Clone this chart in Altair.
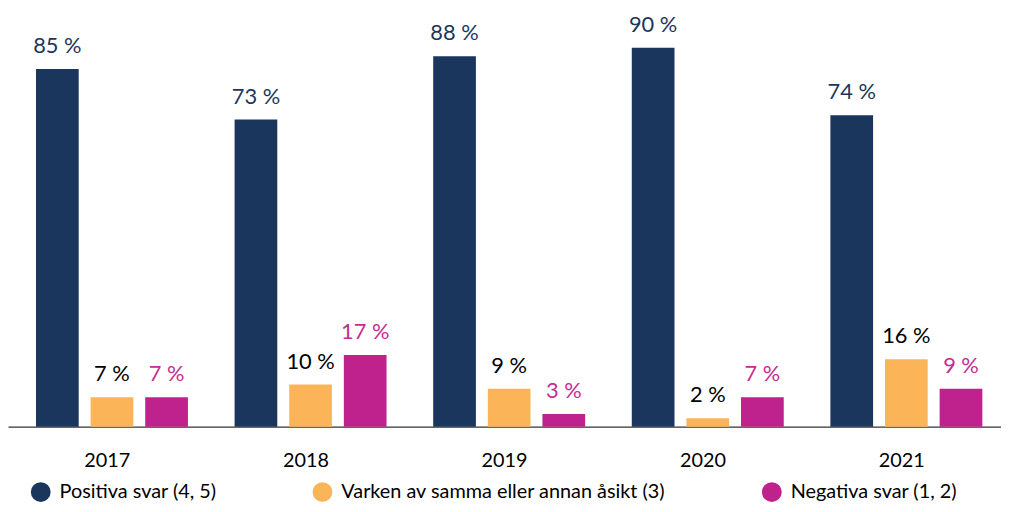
import altair as alt
import pandas as pd

years = ["2017", "2018", "2019", "2020", "2021"]
series = ["Positiva svar (4, 5)", "Varken av samma eller annan åsikt (3)", "Negativa svar (1, 2)"]
positive = [85, 73, 88, 90, 74]
neutral = [7, 10, 9, 2, 16]
negative = [7, 17, 3, 7, 9]
bar_colors = ["#1b365d", "#fbb558", "#bf218d"]
label_colors = ["#1b365d", "#000000", "#c42d93"]

rows = []
for i, y in enumerate(years):
    for s, vals, lc in zip(series, [positive, neutral, negative], label_colors):
        rows.append({"year": y, "series": s, "value": vals[i],
                     "label": f"{vals[i]} %", "lcolor": lc})
df = pd.DataFrame(rows)

FONT = "Lato"

x = alt.X("year:N", title=None, sort=years,
          scale=alt.Scale(paddingInner=0, paddingOuter=0),
          axis=alt.Axis(ticks=False, tickSize=0, labelFontSize=20, labelFont=FONT,
                        labelColor="#000000", labelPadding=24, labelAngle=0,
                        domainColor="#333333", domainWidth=1.5, grid=False))
xo = alt.XOffset("series:N", sort=series,
                 scale=alt.Scale(paddingInner=0.218, paddingOuter=0.427, align=0.6))
y = alt.Y("value:Q", title=None, axis=None,
          scale=alt.Scale(domain=[0, 99], nice=False))

bars = alt.Chart(df).mark_bar().encode(
    x=x, xOffset=xo, y=y,
    color=alt.Color("series:N", sort=series,
                    scale=alt.Scale(domain=series, range=bar_colors),
                    legend=alt.Legend(title=None, orient="none", legendX=23, legendY=476,
                                      direction="horizontal", symbolType="circle",
                                      symbolSize=400, symbolStrokeWidth=0,
                                      labelFontSize=20, labelFont=FONT, labelColor="#000000",
                                      labelOffset=9, columnPadding=96, labelLimit=600)),
)

labels = alt.Chart(df).mark_text(baseline="alphabetic", dy=-16, fontSize=22, font=FONT).encode(
    x=x, xOffset=xo, y=y,
    text="label:N",
    color=alt.Color("lcolor:N", scale=None),
)

chart = alt.layer(bars, labels).properties(
    width=1001, height=420,
    autosize=alt.AutoSizeParams(type="none"),
    padding={"left": 0, "top": 0, "right": 0, "bottom": 76},
).configure_view(stroke=None)

chart.save("out.html", embed_options={"renderer": "svg", "actions": False})
